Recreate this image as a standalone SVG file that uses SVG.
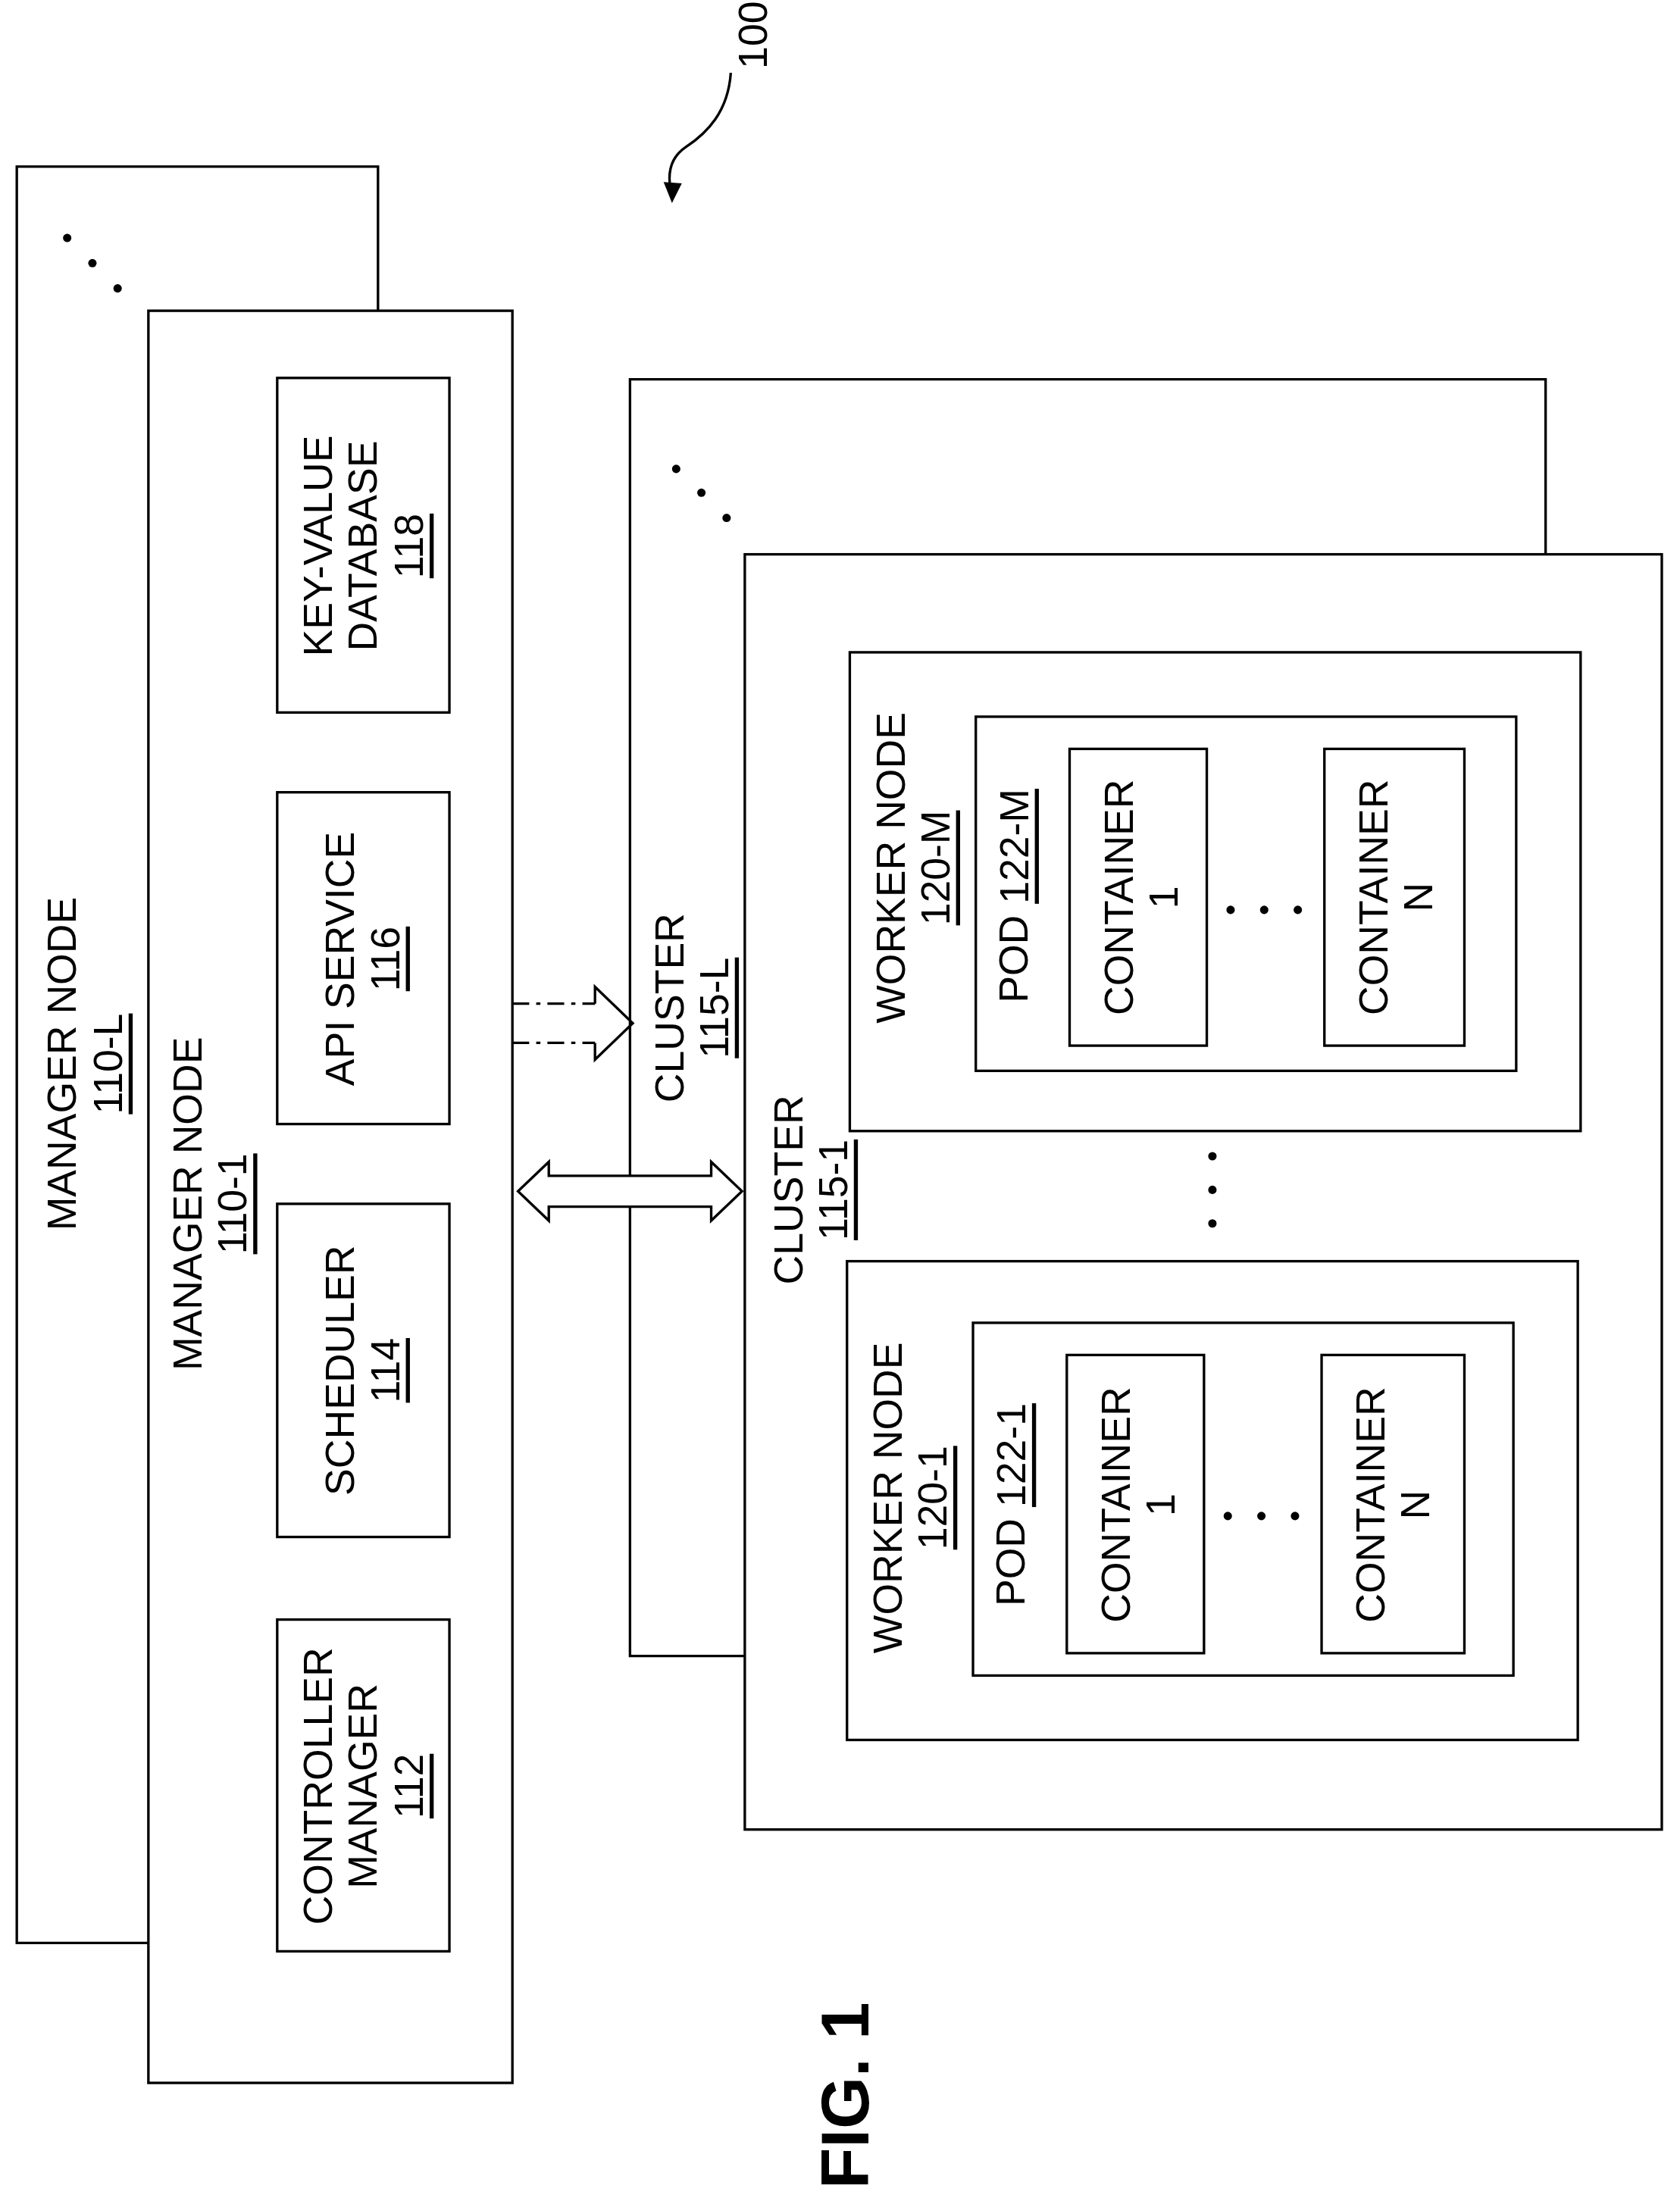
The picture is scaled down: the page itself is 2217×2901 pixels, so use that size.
<svg xmlns="http://www.w3.org/2000/svg" width="2217" height="2901" viewBox="0 0 2217 2901">
<style>
.b{fill:#fff;stroke:#000;stroke-width:1.8}
.l{fill:none;stroke:#000;stroke-width:1.8}
.t{font-family:"Liberation Sans",Arial,sans-serif;font-size:29px;fill:#000;text-anchor:middle;dominant-baseline:central}
.u{text-decoration:underline}
.d{fill:#000}
</style>
<rect width="2217" height="2901" fill="#fff"/>
<g transform="scale(1.8475)">
<g id="mgrL">
<path class="l" d="M106,1388 H12 V119 H270 V222"/>
<text class="t" transform="translate(44,760) rotate(-90)">MANAGER NODE</text>
<text class="t u" transform="translate(77,760) rotate(-90)">110-L</text>
<circle class="d" cx="48" cy="170" r="3"/><circle class="d" cx="66" cy="188" r="3"/><circle class="d" cx="84" cy="206" r="3"/>
</g>
<g id="mgr1">
<rect class="b" x="106" y="222" width="260" height="1266"/>
<text class="t" transform="translate(134,860) rotate(-90)">MANAGER NODE</text>
<text class="t u" transform="translate(166,860) rotate(-90)">110-1</text>
</g>
<g id="kv"><rect class="b" x="198" y="270" width="123" height="239"/>
<text class="t" transform="translate(227,390) rotate(-90)">KEY-VALUE</text>
<text class="t" transform="translate(259,390) rotate(-90)">DATABASE</text>
<text class="t u" transform="translate(292,390) rotate(-90)">118</text></g>
<g id="api"><rect class="b" x="198" y="566" width="123" height="237"/>
<text class="t" transform="translate(243,685) rotate(-90)">API SERVICE</text>
<text class="t u" transform="translate(275,685) rotate(-90)">116</text></g>
<g id="sched"><rect class="b" x="198" y="860" width="123" height="238"/>
<text class="t" transform="translate(243,979) rotate(-90)">SCHEDULER</text>
<text class="t u" transform="translate(275,979) rotate(-90)">114</text></g>
<g id="ctrl"><rect class="b" x="198" y="1157" width="123" height="237"/>
<text class="t" transform="translate(227,1276) rotate(-90)">CONTROLLER</text>
<text class="t" transform="translate(259,1276) rotate(-90)">MANAGER</text>
<text class="t u" transform="translate(292,1276) rotate(-90)">112</text></g>
<g id="clusterL">
<path class="l" d="M532,1183 H450 V271 H1104 V396"/>
<text class="t" transform="translate(478,720) rotate(-90)">CLUSTER</text>
<text class="t u" transform="translate(510,720) rotate(-90)">115-L</text>
<circle class="d" cx="483" cy="335" r="3"/><circle class="d" cx="501" cy="352" r="3"/><circle class="d" cx="519" cy="370" r="3"/>
</g>
<g id="cluster1">
<rect class="b" x="532" y="396" width="655" height="911"/>
<text class="t" transform="translate(563,850) rotate(-90)">CLUSTER</text>
<text class="t u" transform="translate(595,850) rotate(-90)">115-1</text>
<circle class="d" cx="866" cy="826" r="3"/><circle class="d" cx="866" cy="850" r="3"/><circle class="d" cx="866" cy="874" r="3"/>
</g>
<g id="workerM">
<rect class="b" x="607" y="466" width="522" height="342"/>
<text class="t" transform="translate(636,620) rotate(-90)">WORKER NODE</text>
<text class="t u" transform="translate(668,620) rotate(-90)">120-M</text>
<rect class="b" x="697" y="512" width="386" height="253"/>
<text class="t" transform="translate(724,640) rotate(-90)">POD <tspan class="u">122-M</tspan></text>
<rect class="b" x="764" y="535" width="98" height="212"/>
<text class="t" transform="translate(799,641) rotate(-90)">CONTAINER</text>
<text class="t" transform="translate(831,641) rotate(-90)">1</text>
<rect class="b" x="946" y="535" width="100" height="212"/>
<text class="t" transform="translate(981,641) rotate(-90)">CONTAINER</text>
<text class="t" transform="translate(1013,641) rotate(-90)">N</text>
<circle class="d" cx="879" cy="650" r="3"/><circle class="d" cx="903" cy="650" r="3"/><circle class="d" cx="927" cy="650" r="3"/>
</g>
<g id="worker1">
<rect class="b" x="605" y="901" width="522" height="342"/>
<text class="t" transform="translate(634,1070) rotate(-90)">WORKER NODE</text>
<text class="t u" transform="translate(666,1070) rotate(-90)">120-1</text>
<rect class="b" x="695" y="945" width="386" height="252"/>
<text class="t" transform="translate(722,1075) rotate(-90)">POD <tspan class="u">122-1</tspan></text>
<rect class="b" x="762" y="968" width="98" height="213"/>
<text class="t" transform="translate(797,1075) rotate(-90)">CONTAINER</text>
<text class="t" transform="translate(829,1075) rotate(-90)">1</text>
<rect class="b" x="944" y="968" width="102" height="213"/>
<text class="t" transform="translate(979,1075) rotate(-90)">CONTAINER</text>
<text class="t" transform="translate(1011,1075) rotate(-90)">N</text>
<circle class="d" cx="877" cy="1083" r="3"/><circle class="d" cx="901" cy="1083" r="3"/><circle class="d" cx="925" cy="1083" r="3"/>
</g>
<g id="connectors">
<path class="l" d="M366,717 H425 M366,745 H425" stroke-dasharray="12,5,3,5"/>
<path class="l" d="M425,717 V705 L452,731 L425,757 V745"/>
<path class="b" d="M370,851 L392,830 V840 H508 V830 L530,851 L508,872 V862 H392 V872 Z"/>
<path class="l" d="M522,52 C520,80 505,95 490,105 C478,113 476,125 480,140"/>
<path d="M474,130 L480,145 L487,131 Z" class="d"/>
</g>
<text class="t" transform="translate(538,25) rotate(-90)">100</text>
<text class="t" style="font-size:48px;font-weight:bold" transform="translate(604,1497) rotate(-90)">FIG. 1</text>
</g>
</svg>
